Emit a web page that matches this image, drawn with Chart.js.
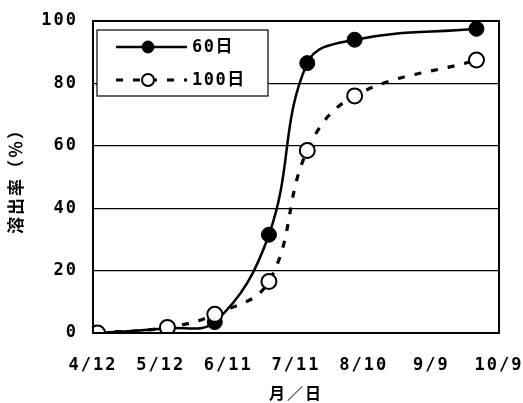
<!DOCTYPE html>
<html>
<head>
<meta charset="utf-8">
<script src="https://cdn.jsdelivr.net/npm/chart.js@4/dist/chart.umd.min.js"></script>
<style>
  html, body { margin: 0; padding: 0; background: #fff; }
  #wrap { width: 523px; height: 403px; }
</style>
</head>
<body>
<div id="wrap"><canvas id="chart" width="523" height="403"></canvas></div>
<script>
// days after 4/12
const sampleDays = [2, 33, 54, 78, 95, 116, 170];
const rate60 = [0, 1.5, 3.5, 31.5, 86.5, 94, 97.5];
const rate100 = [0, 1.8, 6, 16.5, 58.5, 76, 87.5];
const tickDays = [0, 30, 60, 90, 120, 150, 180];
const tickLabels = ['4/12', '5/12', '6/11', '7/11', '8/10', '9/9', '10/9'];
const seriesNames = ['60日', '100日'];

const FONT = '"DejaVu Sans Mono", "Noto Sans CJK JP", sans-serif';
const JP = '"Noto Sans CJK JP", sans-serif';

function toXY(vals){ return vals.map((v, i) => ({ x: sampleDays[i], y: v })); }

// wider letter spacing for all the axis text
const spacing = {
  id: 'spacing',
  beforeDraw(chart){ chart.ctx.letterSpacing = '2px'; },
  afterDraw(chart){ chart.ctx.letterSpacing = '0px'; }
};

// legend box inside the plot + frame around chart area
const boxLegend = {
  id: 'boxLegend',
  afterDraw(chart){
    const ctx = chart.ctx, a = chart.chartArea;
    ctx.save();
    ctx.strokeStyle = '#000';
    ctx.lineWidth = 2;
    ctx.strokeRect(a.left, a.top, a.right - a.left, a.bottom - a.top);

    const bx = a.left + 4, by = a.top + 9, bw = 171, bh = 66;
    ctx.fillStyle = '#fff';
    ctx.fillRect(bx, by, bw, bh);
    ctx.lineWidth = 1.2;
    ctx.strokeRect(bx, by, bw, bh);

    chart.data.datasets.forEach((ds, i) => {
      const y = by + 17 + i * 33;
      ctx.beginPath();
      ctx.lineWidth = ds.borderWidth;
      ctx.strokeStyle = ds.borderColor;
      ctx.setLineDash(ds.borderDash || []);
      ctx.moveTo(bx + 19, y); ctx.lineTo(bx + 90, y);
      ctx.stroke();
      ctx.setLineDash([]);
      ctx.beginPath();
      ctx.arc(bx + 51, y, ds.pointRadius - 1.5, 0, Math.PI * 2);
      ctx.fillStyle = ds.pointBackgroundColor;
      ctx.fill();
      ctx.lineWidth = ds.pointBorderWidth;
      ctx.strokeStyle = ds.pointBorderColor;
      ctx.stroke();
      ctx.fillStyle = '#000';
      ctx.letterSpacing = '1.5px';
      ctx.font = 'bold 17px ' + FONT;
      ctx.textBaseline = 'middle';
      ctx.textAlign = 'left';
      ctx.fillText(ds.label, bx + 95, y + 1);
    });
    ctx.restore();
  }
};

new Chart(document.getElementById('chart').getContext('2d'), {
  type: 'line',
  data: {
    datasets: [{
      label: seriesNames[0],
      data: toXY(rate60),
      borderColor: '#000',
      borderWidth: 2.5,
      tension: 0.4,
      pointRadius: 7.5,
      pointBackgroundColor: '#000',
      pointBorderColor: '#000',
      pointBorderWidth: 1,
      order: 2
    }, {
      label: seriesNames[1],
      data: toXY(rate100),
      borderColor: '#000',
      borderWidth: 3.2,
      borderDash: [7, 10],
      tension: 0.4,
      pointRadius: 7.5,
      pointBackgroundColor: '#fff',
      pointBorderColor: '#000',
      pointBorderWidth: 2,
      order: 1
    }]
  },
  options: {
    responsive: false,
    animation: false,
    devicePixelRatio: 1,
    layout: { padding: { top: 21, right: 24, left: 0, bottom: 0 } },
    plugins: { legend: { display: false }, tooltip: { enabled: false } },
    scales: {
      x: {
        type: 'linear',
        min: 0, max: 180,
        afterBuildTicks(scale){ scale.ticks = tickDays.map(v => ({ value: v })); },
        afterFit(scale){ scale.height = 70; scale.paddingLeft = 0; scale.paddingRight = 0; },
        grid: { display: false, drawTicks: false },
        border: { display: false },
        ticks: {
          color: '#000',
          padding: 22,
          maxRotation: 0,
          autoSkip: false,
          font: { family: FONT, size: 17, weight: 'bold' },
          callback(v){ const i = tickDays.indexOf(v); return i >= 0 ? tickLabels[i] : ''; }
        },
        title: {
          display: true,
          text: '月／日',
          color: '#000',
          padding: { top: 2, bottom: 0 },
          font: { family: JP, size: 16, weight: 'bold' }
        }
      },
      y: {
        min: 0, max: 100,
        afterFit(scale){ scale.width = 93; scale.paddingTop = 0; scale.paddingBottom = 0; },
        grid: { color: '#000', lineWidth: 1.2, drawTicks: false },
        border: { display: false },
        ticks: {
          stepSize: 20,
          color: '#000',
          padding: 15,
          font: { family: FONT, size: 17, weight: 'bold' }
        },
        title: {
          display: true,
          text: '溶出率（％）',
          color: '#000',
          padding: { top: 5, bottom: 0 },
          font: { family: JP, size: 17, weight: 'bold' }
        }
      }
    }
  },
  plugins: [spacing, boxLegend]
});
</script>
</body>
</html>
